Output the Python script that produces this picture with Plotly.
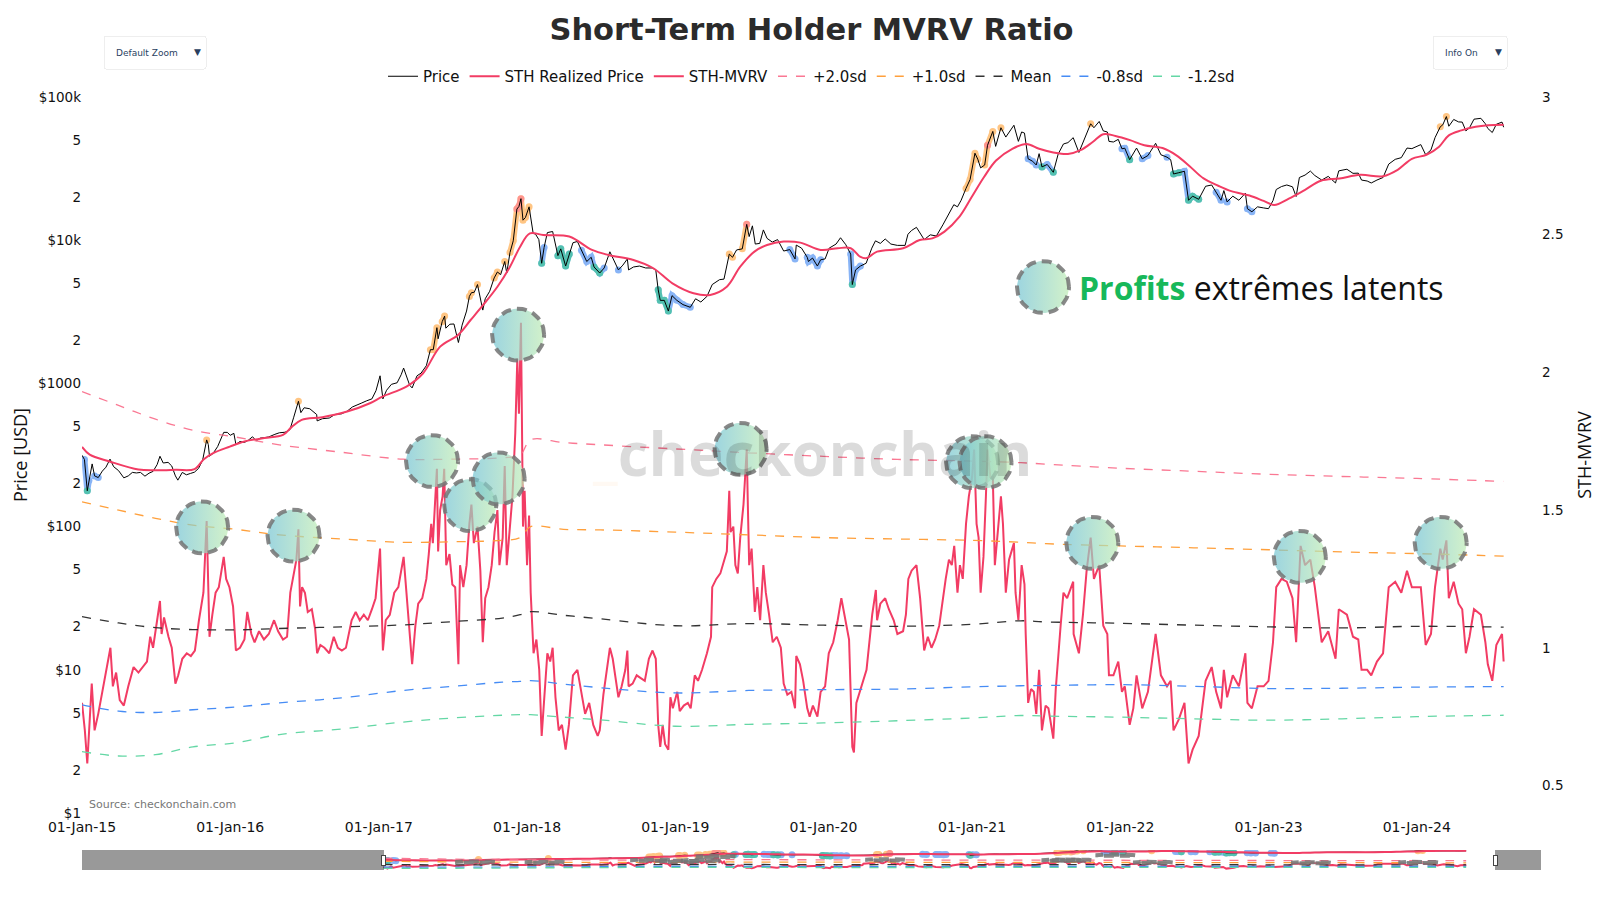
import numpy as np
import pandas as pd
import plotly.graph_objects as go

# ---------------- data ----------------
price_dates = [
    "2015-01-01", "2015-01-07", "2015-01-14", "2015-01-18", "2015-01-26", "2015-02-01", "2015-02-10", "2015-02-20",
    "2015-03-01", "2015-03-11", "2015-03-20", "2015-04-01", "2015-04-14", "2015-04-25", "2015-05-05", "2015-05-15",
    "2015-05-25", "2015-06-05", "2015-06-15", "2015-06-25", "2015-07-05", "2015-07-12", "2015-07-20", "2015-08-01",
    "2015-08-10", "2015-08-19", "2015-08-25", "2015-09-05", "2015-09-15", "2015-09-25", "2015-10-05", "2015-10-15",
    "2015-10-25", "2015-11-04", "2015-11-08", "2015-11-11", "2015-11-20", "2015-12-01", "2015-12-10", "2015-12-16",
    "2015-12-25",
    "2016-01-01", "2016-01-10", "2016-01-15", "2016-01-25", "2016-02-05", "2016-02-15", "2016-02-25", "2016-03-05",
    "2016-03-15", "2016-03-25", "2016-04-05", "2016-04-20", "2016-05-01", "2016-05-15", "2016-05-27", "2016-06-05",
    "2016-06-12", "2016-06-17", "2016-06-23", "2016-07-01", "2016-07-15", "2016-08-01", "2016-08-02", "2016-08-15",
    "2016-09-01", "2016-09-15", "2016-10-01", "2016-10-15", "2016-10-28", "2016-11-08", "2016-11-20", "2016-12-01",
    "2016-12-15", "2016-12-25",
    "2017-01-04", "2017-01-11", "2017-01-20", "2017-02-01", "2017-02-15", "2017-02-25", "2017-03-03", "2017-03-18",
    "2017-03-24", "2017-04-05", "2017-04-15", "2017-04-28", "2017-05-08", "2017-05-15", "2017-05-24", "2017-05-27",
    "2017-06-06", "2017-06-12", "2017-06-15", "2017-06-25", "2017-07-05", "2017-07-16", "2017-07-25", "2017-08-05",
    "2017-08-12", "2017-08-17", "2017-08-24", "2017-09-01", "2017-09-14", "2017-09-20", "2017-10-01", "2017-10-12",
    "2017-10-20", "2017-10-28", "2017-11-07", "2017-11-12", "2017-11-20", "2017-11-28", "2017-12-07", "2017-12-12",
    "2017-12-17", "2017-12-22", "2017-12-28",
    "2018-01-06", "2018-01-16", "2018-01-22", "2018-01-30", "2018-02-06", "2018-02-12", "2018-02-20", "2018-03-05",
    "2018-03-18", "2018-03-25", "2018-04-06", "2018-04-15", "2018-04-24", "2018-05-05", "2018-05-15", "2018-05-28",
    "2018-06-08", "2018-06-15", "2018-06-29", "2018-07-10", "2018-07-24", "2018-08-05", "2018-08-14", "2018-08-25",
    "2018-09-05", "2018-09-08", "2018-09-20", "2018-10-05", "2018-10-20", "2018-11-05", "2018-11-14", "2018-11-20",
    "2018-11-25", "2018-12-05", "2018-12-15", "2018-12-24",
    "2019-01-05", "2019-01-20", "2019-02-07", "2019-02-20", "2019-03-05", "2019-03-20", "2019-04-02", "2019-04-20",
    "2019-05-01", "2019-05-14", "2019-05-22", "2019-06-01", "2019-06-15", "2019-06-26", "2019-07-02", "2019-07-10",
    "2019-07-17", "2019-07-28", "2019-08-06", "2019-08-15", "2019-08-28", "2019-09-10", "2019-09-25", "2019-10-10",
    "2019-10-23", "2019-10-26", "2019-11-08", "2019-11-22", "2019-11-25", "2019-12-05", "2019-12-17", "2019-12-25",
    "2020-01-05", "2020-01-15", "2020-02-01", "2020-02-12", "2020-02-25", "2020-03-08", "2020-03-12", "2020-03-20",
    "2020-04-01", "2020-04-15", "2020-04-29", "2020-05-08", "2020-05-20", "2020-06-01", "2020-06-15", "2020-07-01",
    "2020-07-20", "2020-07-27", "2020-08-05", "2020-08-17", "2020-09-05", "2020-09-20", "2020-10-05", "2020-10-21",
    "2020-11-05", "2020-11-17", "2020-11-26", "2020-12-05", "2020-12-17", "2020-12-27",
    "2021-01-08", "2021-01-15", "2021-01-22", "2021-02-01", "2021-02-08", "2021-02-21", "2021-02-28", "2021-03-13",
    "2021-03-25", "2021-04-05", "2021-04-14", "2021-04-25", "2021-05-03", "2021-05-10", "2021-05-19", "2021-05-30",
    "2021-06-08", "2021-06-15", "2021-06-22", "2021-07-05", "2021-07-20", "2021-08-01", "2021-08-14", "2021-08-25",
    "2021-09-07", "2021-09-21", "2021-10-01", "2021-10-12", "2021-10-20", "2021-10-28", "2021-11-10", "2021-11-20",
    "2021-11-30", "2021-12-04", "2021-12-15", "2021-12-27",
    "2022-01-05", "2022-01-12", "2022-01-24", "2022-02-10", "2022-02-24", "2022-03-10", "2022-03-29", "2022-04-11",
    "2022-04-26", "2022-05-05", "2022-05-12", "2022-05-25", "2022-06-08", "2022-06-18", "2022-06-28", "2022-07-13",
    "2022-07-30", "2022-08-14", "2022-08-25", "2022-09-06", "2022-09-13", "2022-09-21", "2022-10-05", "2022-10-20",
    "2022-11-05", "2022-11-10", "2022-11-21", "2022-12-05", "2022-12-20",
    "2023-01-01", "2023-01-12", "2023-01-20", "2023-02-02", "2023-02-15", "2023-03-01", "2023-03-10", "2023-03-18",
    "2023-04-01", "2023-04-14", "2023-04-25", "2023-05-12", "2023-05-28", "2023-06-15", "2023-06-23", "2023-07-13",
    "2023-07-28", "2023-08-10", "2023-08-18", "2023-09-01", "2023-09-11", "2023-09-25", "2023-10-10", "2023-10-24",
    "2023-11-09", "2023-11-24", "2023-12-08", "2023-12-20",
    "2024-01-02", "2024-01-11", "2024-01-23", "2024-02-05", "2024-02-15", "2024-02-28", "2024-03-05", "2024-03-14",
    "2024-03-20", "2024-04-01", "2024-04-13", "2024-04-22", "2024-05-01", "2024-05-10", "2024-05-21", "2024-06-07",
    "2024-06-18", "2024-06-24", "2024-07-05", "2024-07-15", "2024-07-29", "2024-08-02",
]
price_usd = [
    315, 294, 178, 210, 274, 226, 220, 244,
    260, 296, 262, 246, 219, 226, 239, 237,
    239, 225, 236, 243, 271, 310, 278, 281,
    265, 226, 211, 239, 230, 235, 240, 255,
    290, 403, 374, 310, 325, 362, 415, 455,
    455,
    434, 448, 375, 393, 387, 402, 424, 397,
    415, 418, 423, 441, 452, 456, 475, 575,
    670, 750, 625, 676, 665, 606, 547, 567,
    573, 607, 613, 640, 685, 710, 730, 754,
    780, 890,
    1130, 780, 895, 985, 1010, 1150, 1280, 970,
    930, 1130, 1180, 1330, 1720, 1720, 2450, 2050,
    2700, 2950, 2430, 2590, 2600, 1930, 2550, 3200,
    4050, 4300, 4330, 4900, 3250, 3900, 4400, 5450,
    6000, 5750, 7100, 5900, 8200, 9900, 16500, 17200,
    19500, 13800, 14400,
    17100, 11200, 11000, 10100, 6900, 8900, 11300, 11500,
    7800, 8700, 6600, 8000, 9600, 9800, 8500, 7100,
    7600, 6500, 5900, 6400, 8300, 7000, 6200, 6700,
    7400, 6200, 6500, 6600, 6400, 6400, 6200, 4500,
    3800, 3800, 3200, 4100,
    3800, 3550, 3400, 3900, 3700, 4050, 4900, 5300,
    5350, 8000, 7600, 8550, 8700, 12900, 10600, 12600,
    9400, 9500, 11800, 10300, 9700, 10100, 8400, 8600,
    7400, 9250, 8800, 7600, 7100, 7500, 6600, 7300,
    7400, 8800, 9400, 10400, 9300, 8000, 4900, 6200,
    6600, 6900, 8800, 9900, 9500, 10200, 9400, 9200,
    9200, 11000, 11700, 12300, 10100, 10900, 10700, 12800,
    15500, 17700, 17100, 19000, 23000, 26500,
    40500, 36800, 32000, 33500, 46000, 57500, 45200, 61000,
    52500, 58800, 63500, 49000, 57000, 56000, 37000, 35600,
    33500, 40200, 32500, 33800, 29800, 40000, 47000, 48000,
    52000, 41000, 48000, 57000, 65000, 61000, 67500, 58000,
    57000, 49000, 48500, 50600,
    43500, 43900, 36500, 44000, 37000, 39000, 47500, 39500,
    38000, 36500, 29000, 29600, 30300, 19000, 20300, 19300,
    23800, 24300, 21600, 19000, 22200, 18500, 20300, 19000,
    21300, 16600, 15800, 17100, 16800,
    16600, 18900, 22600, 23700, 24300, 23600, 20200, 27400,
    28500, 30400, 28300, 26300, 27900, 25100, 30500, 31300,
    29300, 29400, 26300, 25900, 25100, 26300, 27400, 34000,
    36700, 37700, 44000, 43600,
    45000, 46500, 39500, 42700, 52000, 62000, 63800, 73000,
    62500, 69700, 67000, 66800, 58000, 61000, 70000, 71000,
    65000, 60300, 56500, 64500, 66800, 61500,
]

sth_rp_dates = [
    "2015-01-01", "2015-01-20", "2015-03-10", "2015-05-20", "2015-07-01", "2015-08-20", "2015-10-05", "2015-10-28",
    "2015-11-20", "2015-12-31", "2016-02-05", "2016-03-25", "2016-05-10", "2016-05-31", "2016-06-25", "2016-08-15",
    "2016-10-15", "2016-12-10", "2017-01-10", "2017-03-10", "2017-04-20", "2017-06-01", "2017-07-15", "2017-08-15",
    "2017-09-15", "2017-10-20", "2017-11-20", "2017-12-15", "2018-01-08", "2018-02-10", "2018-04-15", "2018-06-10",
    "2018-07-20", "2018-09-20", "2018-11-08", "2018-12-25", "2019-02-15", "2019-03-28", "2019-05-08", "2019-06-10",
    "2019-07-15", "2019-08-15", "2019-09-25", "2019-11-05", "2019-12-25", "2020-02-05", "2020-03-08", "2020-03-31",
    "2020-04-15", "2020-05-12", "2020-07-15", "2020-08-25", "2020-09-25", "2020-10-25", "2020-12-01", "2020-12-31",
    "2021-01-30", "2021-03-01", "2021-04-10", "2021-05-15", "2021-06-15", "2021-07-20", "2021-08-25", "2021-09-25",
    "2021-10-25", "2021-11-20", "2021-12-20", "2022-01-25", "2022-03-01", "2022-04-15", "2022-05-20", "2022-06-20",
    "2022-07-25", "2022-08-30", "2022-10-01", "2022-11-15", "2022-12-20", "2023-01-15", "2023-02-20", "2023-04-01",
    "2023-05-10", "2023-06-25", "2023-08-15", "2023-10-10", "2023-11-15", "2023-12-20", "2024-01-25", "2024-02-25",
    "2024-03-20", "2024-04-20", "2024-05-25", "2024-06-25", "2024-08-02",
]
sth_rp_usd = [
    360, 318, 285, 250, 247, 249, 252, 295,
    326, 362, 393, 415, 437, 495, 556, 581,
    636, 727, 809, 950, 1178, 1807, 2180, 2771,
    3532, 4734, 6531, 9010, 11170, 10860, 10600, 8550,
    7890, 7280, 6370, 5000, 4265, 4150, 4734, 6530,
    8320, 9260, 9780, 9620, 8550, 8790, 8790, 7670,
    7480, 8320, 8790, 10020, 10300, 11480, 14600, 20000,
    27500, 36000, 43500, 47000, 43500, 41000, 40000, 42500,
    48500, 55000, 53500, 50000, 46000, 44000, 39000, 33000,
    27000, 24000, 22000, 20500, 18800, 17600, 19500, 22500,
    26000, 27000, 28600, 28000, 31000, 37000, 39500, 45000,
    54000, 58500, 62000, 63500, 64000,
]

mvrv_dates = [
    "2015-01-01", "2015-01-08", "2015-01-14", "2015-01-19", "2015-01-25", "2015-02-01", "2015-02-10", "2015-02-20",
    "2015-03-03", "2015-03-12", "2015-03-18", "2015-03-26", "2015-04-04", "2015-04-14", "2015-04-25", "2015-05-08",
    "2015-05-20", "2015-05-30", "2015-06-10", "2015-06-18", "2015-06-25", "2015-07-05", "2015-07-12", "2015-07-16",
    "2015-07-22", "2015-08-02", "2015-08-10", "2015-08-19", "2015-08-26", "2015-09-05", "2015-09-16", "2015-09-26",
    "2015-10-06", "2015-10-16", "2015-10-27", "2015-11-04", "2015-11-07", "2015-11-11", "2015-11-18", "2015-11-26",
    "2015-12-04", "2015-12-10", "2015-12-16", "2015-12-22", "2015-12-30",
    "2016-01-08", "2016-01-15", "2016-01-25", "2016-02-05", "2016-02-12", "2016-02-22", "2016-03-01", "2016-03-12",
    "2016-03-24", "2016-04-05", "2016-04-18", "2016-04-28", "2016-05-10", "2016-05-20", "2016-05-28", "2016-06-05",
    "2016-06-12", "2016-06-17", "2016-06-21", "2016-06-26", "2016-07-03", "2016-07-10", "2016-07-20", "2016-07-28",
    "2016-08-02", "2016-08-10", "2016-08-20", "2016-09-01", "2016-09-12", "2016-09-22", "2016-10-02", "2016-10-12",
    "2016-10-26", "2016-11-05", "2016-11-15", "2016-11-25", "2016-12-05", "2016-12-15", "2016-12-24",
    "2017-01-04", "2017-01-11", "2017-01-18", "2017-01-28", "2017-02-08", "2017-02-18", "2017-03-03", "2017-03-10",
    "2017-03-18", "2017-03-24", "2017-04-01", "2017-04-08", "2017-04-18", "2017-04-28", "2017-05-04", "2017-05-10",
    "2017-05-14", "2017-05-20", "2017-05-24", "2017-05-27", "2017-06-01", "2017-06-07", "2017-06-11", "2017-06-16",
    "2017-06-24", "2017-07-01", "2017-07-08", "2017-07-16", "2017-07-20", "2017-07-28", "2017-08-05", "2017-08-12",
    "2017-08-17", "2017-08-23", "2017-09-01", "2017-09-08", "2017-09-14", "2017-09-20", "2017-09-28", "2017-10-06",
    "2017-10-13", "2017-10-20", "2017-10-25", "2017-11-02", "2017-11-07", "2017-11-12", "2017-11-18", "2017-11-26",
    "2017-12-03", "2017-12-08", "2017-12-12", "2017-12-17", "2017-12-22", "2017-12-26",
    "2018-01-01", "2018-01-06", "2018-01-10", "2018-01-17", "2018-01-24", "2018-01-31", "2018-02-06", "2018-02-12",
    "2018-02-20", "2018-02-27", "2018-03-05", "2018-03-12", "2018-03-20", "2018-03-28", "2018-04-06", "2018-04-14",
    "2018-04-24", "2018-05-05", "2018-05-14", "2018-05-24", "2018-06-03", "2018-06-13", "2018-06-24", "2018-06-29",
    "2018-07-08", "2018-07-17", "2018-07-24", "2018-07-31", "2018-08-08", "2018-08-14", "2018-08-22", "2018-08-31",
    "2018-09-05", "2018-09-08", "2018-09-18", "2018-09-28", "2018-10-08", "2018-10-18", "2018-10-28", "2018-11-06",
    "2018-11-14", "2018-11-20", "2018-11-25", "2018-12-01", "2018-12-07", "2018-12-15", "2018-12-20", "2018-12-26",
    "2019-01-06", "2019-01-12", "2019-01-22", "2019-02-01", "2019-02-08", "2019-02-18", "2019-02-26", "2019-03-08",
    "2019-03-20", "2019-03-30", "2019-04-02", "2019-04-12", "2019-04-22", "2019-05-01", "2019-05-08", "2019-05-14",
    "2019-05-17", "2019-05-24", "2019-05-29", "2019-06-04", "2019-06-10", "2019-06-18", "2019-06-26", "2019-06-29",
    "2019-07-02", "2019-07-08", "2019-07-16", "2019-07-22", "2019-07-29", "2019-08-06", "2019-08-12", "2019-08-20",
    "2019-08-29", "2019-09-08", "2019-09-18", "2019-09-25", "2019-10-04", "2019-10-14", "2019-10-23", "2019-10-26",
    "2019-11-04", "2019-11-12", "2019-11-22", "2019-11-28", "2019-12-06", "2019-12-17", "2019-12-25",
    "2020-01-05", "2020-01-14", "2020-01-25", "2020-02-05", "2020-02-14", "2020-02-24", "2020-03-04", "2020-03-12",
    "2020-03-16", "2020-03-22", "2020-03-30", "2020-04-08", "2020-04-16", "2020-04-30", "2020-05-09", "2020-05-12",
    "2020-05-20", "2020-06-01", "2020-06-10", "2020-06-22", "2020-07-01", "2020-07-15", "2020-07-22", "2020-07-28",
    "2020-08-05", "2020-08-17", "2020-08-26", "2020-09-05", "2020-09-14", "2020-09-23", "2020-10-02", "2020-10-12",
    "2020-10-21", "2020-10-28", "2020-11-05", "2020-11-12", "2020-11-18", "2020-11-26", "2020-12-02", "2020-12-09",
    "2020-12-17", "2020-12-24",
    "2021-01-01", "2021-01-06", "2021-01-12", "2021-01-17", "2021-01-22", "2021-01-29", "2021-02-04", "2021-02-08",
    "2021-02-15", "2021-02-21", "2021-02-26", "2021-03-03", "2021-03-13", "2021-03-18", "2021-03-25", "2021-04-02",
    "2021-04-14", "2021-04-18", "2021-04-25", "2021-05-03", "2021-05-10", "2021-05-13", "2021-05-19", "2021-05-26",
    "2021-06-02", "2021-06-08", "2021-06-15", "2021-06-22", "2021-07-01", "2021-07-08", "2021-07-20", "2021-07-26",
    "2021-08-01", "2021-08-07", "2021-08-14", "2021-08-23", "2021-09-07", "2021-09-08", "2021-09-21", "2021-10-01",
    "2021-10-10", "2021-10-20", "2021-10-28", "2021-11-10", "2021-11-20", "2021-11-30", "2021-12-04", "2021-12-15",
    "2021-12-27",
    "2022-01-05", "2022-01-12", "2022-01-24", "2022-02-02", "2022-02-10", "2022-02-24", "2022-03-10", "2022-03-29",
    "2022-04-11", "2022-04-26", "2022-05-05", "2022-05-12", "2022-05-25", "2022-06-08", "2022-06-18", "2022-06-28",
    "2022-07-13", "2022-07-30", "2022-08-14", "2022-08-25", "2022-09-06", "2022-09-13", "2022-09-21", "2022-10-05",
    "2022-10-20", "2022-11-05", "2022-11-10", "2022-11-21", "2022-12-05", "2022-12-20",
    "2023-01-01", "2023-01-12", "2023-01-20", "2023-02-02", "2023-02-15", "2023-03-01", "2023-03-10", "2023-03-21",
    "2023-04-01", "2023-04-14", "2023-04-25", "2023-05-12", "2023-05-28", "2023-06-15", "2023-06-23", "2023-07-13",
    "2023-07-28", "2023-08-10", "2023-08-18", "2023-09-01", "2023-09-11", "2023-09-25", "2023-10-10", "2023-10-24",
    "2023-11-09", "2023-11-24", "2023-12-08", "2023-12-20",
    "2024-01-02", "2024-01-11", "2024-01-23", "2024-02-05", "2024-02-15", "2024-02-28", "2024-03-05", "2024-03-14",
    "2024-03-20", "2024-04-01", "2024-04-13", "2024-04-22", "2024-05-01", "2024-05-10", "2024-05-21", "2024-06-07",
    "2024-06-18", "2024-06-24", "2024-07-05", "2024-07-15", "2024-07-29", "2024-08-02",
]
mvrv_ratio = [
    0.80, 0.70, 0.58, 0.72, 0.87, 0.70, 0.76, 0.84,
    0.93, 1.00, 0.86, 0.91, 0.81, 0.79, 0.86, 0.93,
    0.91, 0.93, 0.95, 1.04, 1.00, 1.10, 1.17, 1.05,
    1.11, 1.04, 1.00, 0.87, 0.90, 0.96, 0.98, 0.97,
    0.99, 1.10, 1.20, 1.46, 1.30, 1.04, 1.12, 1.20,
    1.22, 1.28, 1.33, 1.25, 1.22,
    1.15, 0.99, 1.00, 1.03, 1.13, 1.05, 1.02, 1.06,
    1.03, 1.05, 1.10, 1.06, 1.03, 1.04, 1.20, 1.26,
    1.32, 1.43, 1.15, 1.22, 1.20, 1.13, 1.14, 1.07,
    0.98, 1.01, 1.00, 0.98, 1.04, 1.00, 0.99, 1.00,
    1.10, 1.13, 1.10, 1.12, 1.10, 1.14, 1.18,
    1.36, 0.99, 1.10, 1.12, 1.20, 1.22, 1.33, 1.20,
    1.05, 0.94, 1.08, 1.16, 1.18, 1.25, 1.34, 1.45,
    1.38, 1.52, 1.65, 1.35, 1.50, 1.55, 1.65, 1.30,
    1.34, 1.23, 1.22, 0.94, 1.30, 1.22, 1.30, 1.45,
    1.52, 1.38, 1.44, 1.28, 1.02, 1.18, 1.22, 1.30,
    1.42, 1.50, 1.30, 1.40, 1.66, 1.30, 1.42, 1.55,
    1.78, 2.05, 1.85, 2.18, 1.44, 1.57,
    1.30, 1.48, 1.20, 0.98, 1.03, 0.92, 0.68, 0.80,
    0.98, 0.95, 1.00, 0.82, 0.70, 0.72, 0.63, 0.72,
    0.90, 0.92, 0.84, 0.76, 0.80, 0.72, 0.68, 0.70,
    0.83, 0.92, 1.00, 0.96, 0.87, 0.82, 0.86, 0.92,
    0.99, 0.86, 0.87, 0.90, 0.89, 0.88, 0.96, 0.99,
    0.96, 0.72, 0.64, 0.72, 0.65, 0.63, 0.82, 0.78,
    0.84, 0.77, 0.79, 0.80, 0.78, 0.90, 0.88, 0.92,
    0.98, 1.04, 1.22, 1.25, 1.27, 1.32, 1.35, 1.57,
    1.42, 1.44, 1.30, 1.27, 1.40, 1.52, 1.72, 1.50,
    1.30, 1.36, 1.13, 1.22, 1.10, 1.30, 1.20, 1.12,
    1.02, 1.04, 1.00, 0.87, 0.83, 0.84, 0.78, 0.97,
    0.94, 0.88, 0.78, 0.75, 0.79, 0.75, 0.84,
    0.86, 0.98, 1.02, 1.10, 1.18, 1.10, 1.03, 0.64,
    0.62, 0.80, 0.84, 0.88, 0.92, 1.12, 1.21, 1.10,
    1.16, 1.18, 1.14, 1.10, 1.05, 1.06, 1.12, 1.25,
    1.28, 1.30, 1.18, 0.99, 1.04, 1.00, 1.03, 1.08,
    1.18, 1.25, 1.32, 1.30, 1.37, 1.20, 1.30, 1.25,
    1.45, 1.55,
    1.62, 1.72, 1.45, 1.40, 1.20, 1.33, 1.55, 1.72,
    1.62, 1.62, 1.30, 1.38, 1.55, 1.45, 1.20, 1.32,
    1.38, 1.20, 1.10, 1.30, 1.23, 1.05, 0.80, 0.85,
    0.84, 0.76, 0.92, 0.70, 0.79, 0.78, 0.67, 0.85,
    0.98, 1.08, 1.20, 1.18, 1.24, 1.05, 0.98, 1.12,
    1.28, 1.40, 1.25, 1.30, 1.08, 1.05, 0.90, 0.90,
    0.95,
    0.84, 0.86, 0.72, 0.78, 0.90, 0.78, 0.84, 1.05,
    0.90, 0.86, 0.88, 0.70, 0.74, 0.80, 0.58, 0.63,
    0.68, 0.88, 0.93, 0.84, 0.78, 0.92, 0.82, 0.90,
    0.86, 0.98, 0.80, 0.78, 0.86, 0.86,
    0.88, 1.02, 1.22, 1.25, 1.24, 1.18, 1.02, 1.37,
    1.30, 1.32, 1.22, 1.02, 1.06, 0.96, 1.14, 1.12,
    1.04, 1.03, 0.92, 0.92, 0.90, 0.95, 0.98, 1.22,
    1.24, 1.20, 1.28, 1.22,
    1.22, 1.22, 1.01, 1.05, 1.22, 1.36, 1.32, 1.39,
    1.18, 1.24, 1.16, 1.14, 0.98, 1.04, 1.14, 1.12,
    1.02, 0.94, 0.88, 1.01, 1.05, 0.95,
]

band_dates = [
    "2015-01-01", "2015-04-01", "2015-07-01", "2015-10-01", "2016-01-15", "2016-05-01", "2016-10-01", "2017-03-01",
    "2017-07-01", "2017-11-01", "2017-12-15", "2018-01-10", "2018-04-01", "2018-07-01", "2019-01-01", "2019-07-01",
    "2020-01-01", "2020-07-01", "2021-01-01", "2021-05-01", "2021-07-01", "2022-01-01", "2022-07-01", "2023-01-01",
    "2023-07-01", "2024-01-01", "2024-08-02",
]
band_p20 = [1.93, 1.88, 1.83, 1.79, 1.765, 1.737, 1.71, 1.685, 1.685, 1.69, 1.70, 1.755, 1.745, 1.737, 1.722, 1.708,
            1.695, 1.684, 1.678, 1.672, 1.667, 1.652, 1.641, 1.630, 1.622, 1.615, 1.604]
band_p10 = [1.53, 1.50, 1.47, 1.445, 1.43, 1.41, 1.395, 1.383, 1.385, 1.39, 1.40, 1.44, 1.43, 1.428, 1.42, 1.41,
            1.40, 1.395, 1.39, 1.383, 1.378, 1.37, 1.363, 1.356, 1.348, 1.342, 1.333]
band_mean = [1.113, 1.09, 1.073, 1.066, 1.065, 1.07, 1.076, 1.083, 1.095, 1.108, 1.12, 1.131, 1.118, 1.105, 1.08,
             1.088, 1.082, 1.078, 1.085, 1.098, 1.094, 1.089, 1.082, 1.076, 1.072, 1.078, 1.075]
band_m08 = [0.793, 0.77, 0.765, 0.775, 0.785, 0.80, 0.818, 0.845, 0.86, 0.875, 0.878, 0.881, 0.868, 0.855, 0.836,
            0.845, 0.848, 0.85, 0.858, 0.862, 0.863, 0.866, 0.86, 0.852, 0.853, 0.857, 0.859]
band_m12 = [0.623, 0.607, 0.612, 0.64, 0.655, 0.685, 0.705, 0.73, 0.745, 0.755, 0.757, 0.757, 0.748, 0.738, 0.715,
            0.722, 0.727, 0.735, 0.745, 0.754, 0.752, 0.748, 0.742, 0.737, 0.742, 0.75, 0.755]

# circled extremes (date, STH-MVRV level of the circle centre)
peak_dates = ["2015-10-24", "2016-06-05", "2017-05-12", "2017-08-14", "2017-10-23", "2017-12-10",
              "2019-06-11", "2021-01-01", "2021-02-03", "2021-10-24", "2023-03-19", "2024-02-29"]
peak_levels = [1.437, 1.407, 1.678, 1.518, 1.615, 2.137, 1.722, 1.674, 1.674, 1.381, 1.33, 1.381]

price_ticks = [1, 2, 5, 10, 20, 50, 100, 200, 500, 1000, 2000, 5000, 10000, 20000, 50000, 100000]
price_tick_text = ["$1", "2", "5", "$10", "2", "5", "$100", "2", "5", "$1000", "2", "5", "$10k", "2", "5", "$100k"]

# ---------------- layout geometry (figure pixels) ----------------
W, H = 1592, 892
ML, MT = 74, 89
PW, PH = 1459, 716
MR, MB = W - ML - PW, H - MT - PH
X_RANGE = ["2015-01-01", "2024-11-02"]
Y2_RANGE = [0.4, 3.0]
days_per_px = (pd.Timestamp(X_RANGE[1]) - pd.Timestamp(X_RANGE[0])).days / PW
mvrv_per_px = (Y2_RANGE[1] - Y2_RANGE[0]) / PH

RED = "rgb(242,60,100)"
TICK_FONT = dict(family="DejaVu Sans", size=13.5, color="#111")


def to_days(dates):
    return pd.to_datetime(dates).asi8 / 86400e9


def ring(date, level, r_px=26):
    th = np.linspace(0, 2 * np.pi, 73)
    xs = pd.Timestamp(date) + pd.to_timedelta(r_px * days_per_px * np.cos(th), unit="D")
    ys = level + r_px * mvrv_per_px * np.sin(th)
    return xs, ys


def ring_trace(date, level):
    xs, ys = ring(date, level)
    return go.Scatter(
        x=xs, y=ys, yaxis="y2", mode="lines", fill="toself",
        fillgradient=dict(type="horizontal",
                          colorscale=[[0, "rgba(115,195,210,0.7)"], [1, "rgba(190,235,180,0.7)"]]),
        line=dict(color="rgba(115,115,115,0.85)", width=4, dash="10px,6px"),
        showlegend=False, hoverinfo="skip")


fig = go.Figure()

# highlight price where STH-MVRV sits outside the bands
t_price = to_days(price_dates)
t_mvrv = to_days(mvrv_dates)
t_band = to_days(band_dates)
m_at = np.interp(t_price, t_mvrv, mvrv_ratio)
p = np.array(price_usd, dtype=float)
highlights = [
    ("rgb(255,150,30)", m_at > np.interp(t_price, t_band, band_p10)),
    ("rgb(255,110,150)", m_at > np.interp(t_price, t_band, band_p20)),
    ("rgb(40,120,240)", m_at < np.interp(t_price, t_band, band_m08)),
    ("rgb(40,205,120)", m_at < np.interp(t_price, t_band, band_m12)),
]
for col, mask in highlights:
    fig.add_trace(go.Scatter(
        x=price_dates, y=np.where(mask, p, np.nan), mode="lines+markers",
        line=dict(color=col, width=6), marker=dict(color=col, size=7),
        opacity=0.55, showlegend=False, hoverinfo="skip"))

fig.add_trace(go.Scatter(x=price_dates, y=price_usd, name="Price",
                         line=dict(color="black", width=1)))
fig.add_trace(go.Scatter(x=sth_rp_dates, y=sth_rp_usd, name="STH Realized Price",
                         line=dict(color=RED, width=2, shape="spline")))
fig.add_trace(go.Scatter(x=mvrv_dates, y=mvrv_ratio, name="STH-MVRV", yaxis="y2",
                         line=dict(color=RED, width=2)))

bands = [
    ("+2.0sd", band_p20, "rgba(250,105,135,0.9)"),
    ("+1.0sd", band_p10, "rgb(255,160,60)"),
    ("Mean", band_mean, "#333333"),
    ("-0.8sd", band_m08, "rgb(70,140,245)"),
    ("-1.2sd", band_m12, "rgb(100,215,165)"),
]
for name, vals, col in bands:
    fig.add_trace(go.Scatter(x=band_dates, y=vals, name=name, yaxis="y2",
                             line=dict(color=col, width=1.3, dash="dash", shape="spline")))

for d, lv in zip(peak_dates, peak_levels):
    fig.add_trace(ring_trace(d, lv))

# circle used as the key of the annotation
key_date = pd.Timestamp(X_RANGE[0]) + pd.Timedelta(days=(1035 - ML) * days_per_px)
key_level = Y2_RANGE[1] - (279 - MT) * mvrv_per_px
fig.add_trace(ring_trace(key_date, key_level))

fig.update_layout(
    width=W, height=H,
    margin=dict(l=ML, r=MR, t=MT, b=MB, autoexpand=False),
    paper_bgcolor="white", plot_bgcolor="white",
    font=dict(family="DejaVu Sans", color="#111"),
    title=dict(text="<b>Short-Term Holder MVRV Ratio</b>", x=0.5, xref="paper", xanchor="center",
               y=1 - 21 / H, yref="container", yanchor="middle",
               font=dict(family="DejaVu Sans", size=30.5, color="#2b2b2b")),
    legend=dict(orientation="h", x=0.5, xanchor="center", y=1 + 20.5 / PH, yanchor="middle",
                font=dict(family="DejaVu Sans", size=15), bgcolor="rgba(0,0,0,0)"),
    xaxis=dict(range=X_RANGE, type="date", tickformat="%d-%b-%y", dtick="M12", tick0="2015-01-01",
               showgrid=False, zeroline=False, ticklabelstandoff=4,
               tickfont=dict(family="DejaVu Sans", size=14, color="#111"),
               rangeslider=dict(visible=True, thickness=0.028, range=["2012-05-01", "2025-04-01"],
                                bgcolor="white", borderwidth=0)),
    yaxis=dict(type="log", range=[0, 5], tickvals=price_ticks, ticktext=price_tick_text,
               showgrid=False, zeroline=False, tickfont=TICK_FONT,
               title=dict(text="Price [USD]", font=dict(family="Open Sans", size=18))),
    yaxis2=dict(overlaying="y", side="right", range=Y2_RANGE, dtick=0.5, tick0=0.5,
                showgrid=False, zeroline=False, tickfont=TICK_FONT,
                title=dict(text="STH-MVRV", font=dict(family="Open Sans", size=18))),
    annotations=[
        dict(text="<span style='color:rgba(250,165,70,0.45)'>_</span>checkonchain",
             xref="paper", yref="paper", x=0.5, y=0.503, xanchor="center", yanchor="middle",
             showarrow=False, font=dict(family="Open Sans", size=60, color="rgba(0,0,0,0.14)", weight="bold")),
        dict(text="<b><span style='color:#17b85a'>Profits</span></b> extrêmes latents",
             xref="paper", yref="paper", x=(1069 - ML) / PW, y=(MT + PH - 279) / PH,
             xanchor="left", yanchor="middle", showarrow=False,
             font=dict(family="Open Sans", size=32, color="#111")),
        dict(text="Source: checkonchain.com", xref="paper", yref="paper", x=5 / PW, y=9 / PH,
             xanchor="left", yanchor="middle", showarrow=False,
             font=dict(family="DejaVu Sans", size=11, color="#777")),
    ],
    updatemenus=[
        dict(type="dropdown", active=0, x=(95 - ML) / PW, y=1 + (MT - 27) / PH, xanchor="left", yanchor="top",
             bgcolor="white", bordercolor="#eeeeee", font=dict(size=9, color="#2a3f5f"),
             buttons=[
                 dict(label="Default Zoom", method="relayout",
                      args=[{"xaxis.range": X_RANGE, "yaxis.range": [0, 5]}]),
                 dict(label="Full History", method="relayout",
                      args=[{"xaxis.autorange": True, "yaxis.autorange": True}]),
             ]),
        dict(type="dropdown", active=0, x=(1498 - ML) / PW, y=1 + (MT - 27) / PH, xanchor="right", yanchor="top",
             bgcolor="white", bordercolor="#eeeeee", font=dict(size=9, color="#2a3f5f"),
             buttons=[
                 dict(label="Info On", method="relayout", args=[{"annotations[1].visible": True}]),
                 dict(label="Info Off", method="relayout", args=[{"annotations[1].visible": False}]),
             ]),
    ],
)

fig.write_html("out.html")
